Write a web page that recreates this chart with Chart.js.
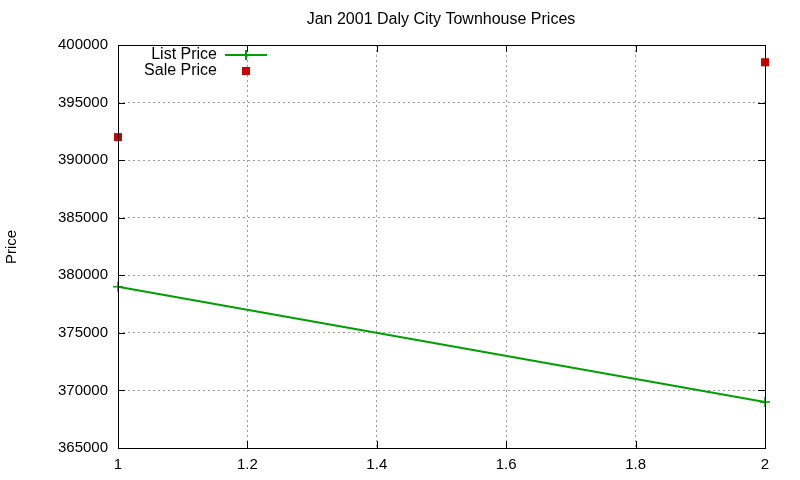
<!DOCTYPE html>
<html>
<head>
<meta charset="utf-8">
<script src="https://cdn.jsdelivr.net/npm/chart.js@4/dist/chart.umd.min.js"></script>
<style>
  html, body { margin: 0; padding: 0; background: #fff; }
  #wrap { width: 800px; height: 480px; }
</style>
</head>
<body>
<div id="wrap"><canvas id="priceChart"></canvas></div>
<script>
// data
const listX = [1, 2];
const listPrice = [379000, 369000];
const saleX = [1, 2];
const salePrice = [392000, 398500];
const xTicks = [1, 1.2, 1.4, 1.6, 1.8, 2];
const yTicks = [365000, 370000, 375000, 380000, 385000, 390000, 395000, 400000];

const FONT = "'Liberation Sans', Arial, sans-serif";

// gnuplot-ish frame, inward ticks, title, y label and legend
const gnuplotDeco = {
    id: "gnuplotDeco",
    afterDraw(chart) {
        const { ctx, chartArea: a, scales } = chart;
        ctx.save();
        ctx.strokeStyle = "#000";
        ctx.lineWidth = 1;
        ctx.beginPath();
        xTicks.forEach(v => {
            const x = Math.round(scales.x.getPixelForValue(v)) + 0.5;
            ctx.moveTo(x, a.bottom); ctx.lineTo(x, a.bottom - 7);
            ctx.moveTo(x, a.top); ctx.lineTo(x, a.top + 7);
        });
        yTicks.forEach(v => {
            const y = Math.round(scales.y.getPixelForValue(v)) + 0.5;
            ctx.moveTo(a.left, y); ctx.lineTo(a.left + 7, y);
            ctx.moveTo(a.right, y); ctx.lineTo(a.right - 7, y);
        });
        ctx.stroke();
        ctx.strokeRect(Math.round(a.left) + 0.5, Math.round(a.top) + 0.5,
            Math.round(a.right - a.left), Math.round(a.bottom - a.top));

        ctx.fillStyle = "#000";
        ctx.font = "16px " + FONT;
        ctx.textAlign = "center";
        ctx.textBaseline = "middle";
        ctx.fillText("Jan 2001 Daly City Townhouse Prices", 441, 20);

        ctx.save();
        ctx.translate(12, 247);
        ctx.rotate(-Math.PI / 2);
        ctx.font = "15px " + FONT;
        ctx.fillText("Price", 0, 0);
        ctx.restore();

        // legend
        ctx.font = "16px " + FONT;
        ctx.textAlign = "right";
        chart.data.datasets.forEach((ds, i) => {
            const y = 55 + i * 16;
            ctx.fillStyle = "#000";
            ctx.fillText(ds.label, 217, y);
            if (ds.showLine) {
                ctx.strokeStyle = ds.borderColor;
                ctx.lineWidth = 2;
                ctx.beginPath();
                ctx.moveTo(225, y); ctx.lineTo(267, y);
                ctx.moveTo(246, y - 5); ctx.lineTo(246, y + 5);
                ctx.stroke();
            } else {
                ctx.fillStyle = ds.backgroundColor;
                ctx.fillRect(242, y - 4, 8, 8);
            }
        });
        ctx.restore();
    }
};

new Chart(document.getElementById("priceChart"), {
    type: "scatter",
    data: {
        datasets: [
            {
                label: "List Price",
                data: listX.map((x, i) => ({ x, y: listPrice[i] })),
                showLine: true,
                borderColor: "#00a000",
                backgroundColor: "#00a000",
                borderWidth: 2,
                pointStyle: "cross",
                pointRadius: 5,
                pointBorderWidth: 1.5,
                clip: false
            },
            {
                label: "Sale Price",
                data: saleX.map((x, i) => ({ x, y: salePrice[i] })),
                showLine: false,
                borderColor: "#cc0000",
                backgroundColor: "#cc0000",
                pointStyle: "rect",
                pointRadius: 5.7,
                pointBorderWidth: 0,
                clip: false
            }
        ]
    },
    options: {
        responsive: true,
        maintainAspectRatio: false,
        animation: false,
        layout: { padding: { left: 0, right: 35, top: 45, bottom: 0 } },
        plugins: { legend: { display: false }, title: { display: false }, tooltip: { enabled: false } },
        scales: {
            x: {
                type: "linear",
                min: 1, max: 2,
                afterFit: s => { s.height = 32; },
                afterBuildTicks: s => { s.ticks = xTicks.map(v => ({ value: v })); },
                border: { display: false, dash: [2, 3] },
                grid: { color: "#a0a0a0", drawTicks: false },
                ticks: { color: "#000", font: { family: FONT, size: 15 }, padding: 8, maxRotation: 0,
                    callback: v => String(v) }
            },
            y: {
                min: 365000, max: 400000,
                afterFit: s => { s.width = 118; },
                afterBuildTicks: s => { s.ticks = yTicks.map(v => ({ value: v })); },
                border: { display: false, dash: [2, 3] },
                grid: { color: "#a0a0a0", drawTicks: false },
                ticks: { color: "#000", font: { family: FONT, size: 15 }, padding: 10,
                    callback: v => String(v) }
            }
        }
    },
    plugins: [gnuplotDeco]
});
</script>
</body>
</html>
